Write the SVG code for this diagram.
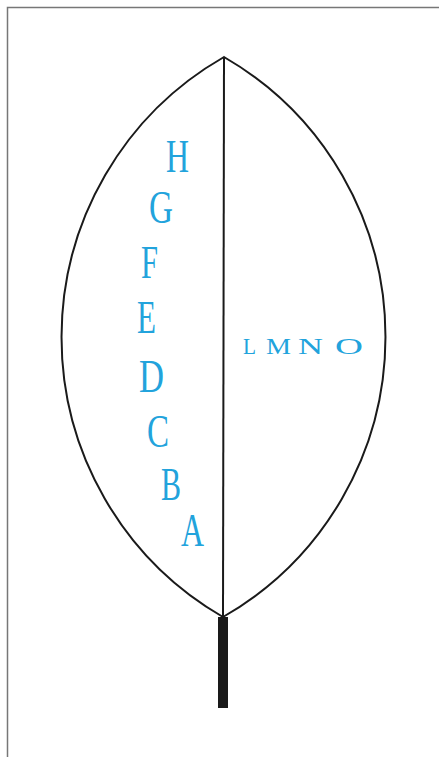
<svg xmlns="http://www.w3.org/2000/svg" width="439" height="757" viewBox="0 0 439 757">
<style>
.ln{fill:none;stroke:#1a1a1a;stroke-width:2}
.lt{font-family:"Liberation Serif","Times New Roman",serif;fill:#22a3dc}
.big{font-size:46px}
.sm{font-size:23px}
</style>
<rect x="0" y="0" width="439" height="757" fill="#ffffff"/>
<rect x="7.5" y="7.5" width="445" height="765" fill="none" stroke="#777" stroke-width="1.5"/>
<g id="leaf">
<path class="ln" d="M224,57 A323,323 0 0,0 223,617 A323,323 0 0,0 224,57 Z"/>
</g>
<g id="connectors">
<line class="ln" x1="224" y1="57" x2="223" y2="617"/>
</g>
<g id="stem">
<rect x="218" y="617" width="10" height="91" fill="#1a1a1a"/>
</g>
<g id="letters-left" class="lt big">
<text x="166" y="172" textLength="23" lengthAdjust="spacingAndGlyphs">H</text>
<text x="149" y="223" textLength="24" lengthAdjust="spacingAndGlyphs">G</text>
<text x="141" y="278" textLength="17" lengthAdjust="spacingAndGlyphs">F</text>
<text x="137" y="333" textLength="19" lengthAdjust="spacingAndGlyphs">E</text>
<text x="139" y="392" textLength="25" lengthAdjust="spacingAndGlyphs">D</text>
<text x="147" y="447" textLength="22" lengthAdjust="spacingAndGlyphs">C</text>
<text x="161" y="500" textLength="20" lengthAdjust="spacingAndGlyphs">B</text>
<text x="181" y="546" textLength="23" lengthAdjust="spacingAndGlyphs">A</text>
</g>
<g id="letters-right" class="lt sm">
<text x="243" y="354" textLength="13" lengthAdjust="spacingAndGlyphs">L</text>
<text x="266" y="354" textLength="25" lengthAdjust="spacingAndGlyphs">M</text>
<text x="298" y="354" textLength="25" lengthAdjust="spacingAndGlyphs">N</text>
<text x="335" y="354" textLength="28" lengthAdjust="spacingAndGlyphs">O</text>
</g>
</svg>
